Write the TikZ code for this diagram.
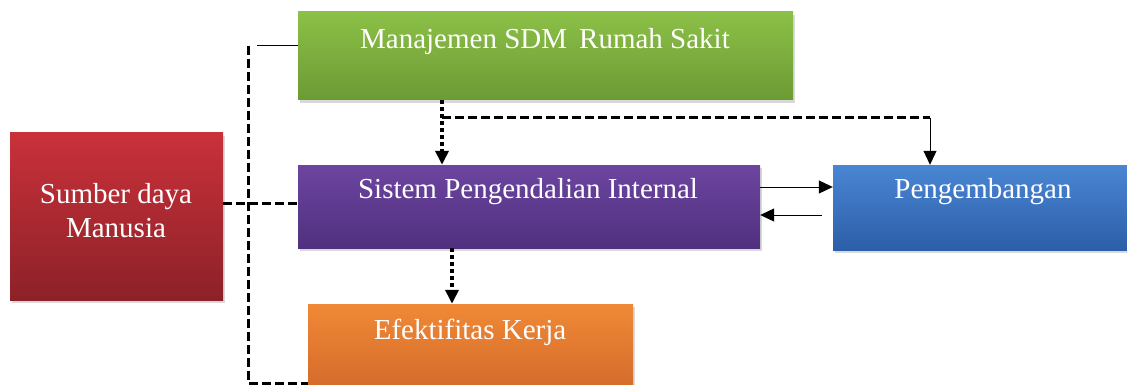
\documentclass[tikz,border=0pt]{standalone}
\usepackage{fontspec}
\setmainfont{Liberation Serif}
\usetikzlibrary{arrows.meta,shadows}
\definecolor{gtop}{HTML}{8CC047}
\definecolor{gbot}{HTML}{6C9A35}
\definecolor{ptop}{HTML}{6C45A0}
\definecolor{pbot}{HTML}{50307E}
\definecolor{btop}{HTML}{4A86D4}
\definecolor{bbot}{HTML}{2C5EA8}
\definecolor{rtop}{HTML}{C9313A}
\definecolor{rbot}{HTML}{8D2128}
\definecolor{otop}{HTML}{F08936}
\definecolor{obot}{HTML}{D2692A}
\tikzset{
  box/.style={draw=none, inner sep=0pt, drop shadow={opacity=0.3, shadow xshift=2pt, shadow yshift=-3pt}},
  lbl/.style={text=white, font=\fontsize{29}{34}\selectfont, align=center, inner sep=0pt},
  thickdash/.style={line width=3pt, dash pattern=on 9pt off 4pt},
  thickdot/.style={line width=3.5pt, dash pattern=on 4pt off 3pt},
  thin/.style={line width=1pt},
  tip/.style={-{Triangle[length=14pt,width=13pt]}},
}
\begin{document}
\begin{tikzpicture}[x=1pt,y=-1pt]
\useasboundingbox (0,0) rectangle (1127,385);
\clip (0,0) rectangle (1127,385);
% boxes
\node[box, top color=gtop, bottom color=gbot, minimum width=495pt, minimum height=88pt] (sdm) at (545.5,56) {};
\node[box, top color=ptop, bottom color=pbot, minimum width=462pt, minimum height=83pt] (spi) at (529,206.5) {};
\node[box, top color=btop, bottom color=bbot, minimum width=302pt, minimum height=85pt] (pgb) at (984,207.5) {};
\node[box, top color=rtop, bottom color=rbot, minimum width=213pt, minimum height=167pt] (sdmn) at (116.5,216.5) {};
\node[box, top color=otop, bottom color=obot, minimum width=325pt, minimum height=90pt] (efk) at (470.5,349) {};
% labels
\node[lbl] (sdmt) at (545,42) {Manajemen SDM\, Rumah Sakit};
\node[lbl] (spit) at (528,192) {Sistem Pengendalian Internal};
\node[lbl] (pgbt) at (983,192) {Pengembangan};
\node[lbl] (sdmnt) at (116,211) {Sumber daya\\Manusia};
\node[lbl] (efkt) at (470,332) {Efektifitas Kerja};
% coordinates
\coordinate (a1) at (257,46);
\coordinate (a2) at (248,46);
\coordinate (a3) at (248,383);
\coordinate (b1) at (442,118);
\coordinate (b2) at (930,118);
% left loop
\draw[thin] (sdm.west |- a1) -- (a1);
\draw[thickdash] (a2) -- (a3) -- (efk.west |- a3);
% red to purple
\draw[thickdash] (sdmn.east |- 0,203) -- (spi.west |- 0,203);
% green to purple
\draw[thickdot, tip] (sdm.south -| b1) -- (spi.north -| b1);
\draw[thickdash] (b1) -- (b2);
\draw[thin, tip] (b2) -- (pgb.north -| b2);
% purple to orange
\draw[thickdot, tip] (spi.south -| 452,0) -- (efk.north -| 452,0);
% purple <-> blue
\draw[thin, tip] (spi.east |- 0,187) -- (pgb.west |- 0,187);
\draw[thin, tip] ([xshift=-11pt]pgb.west |- 0,215) -- (spi.east |- 0,215);
\end{tikzpicture}
\end{document}
